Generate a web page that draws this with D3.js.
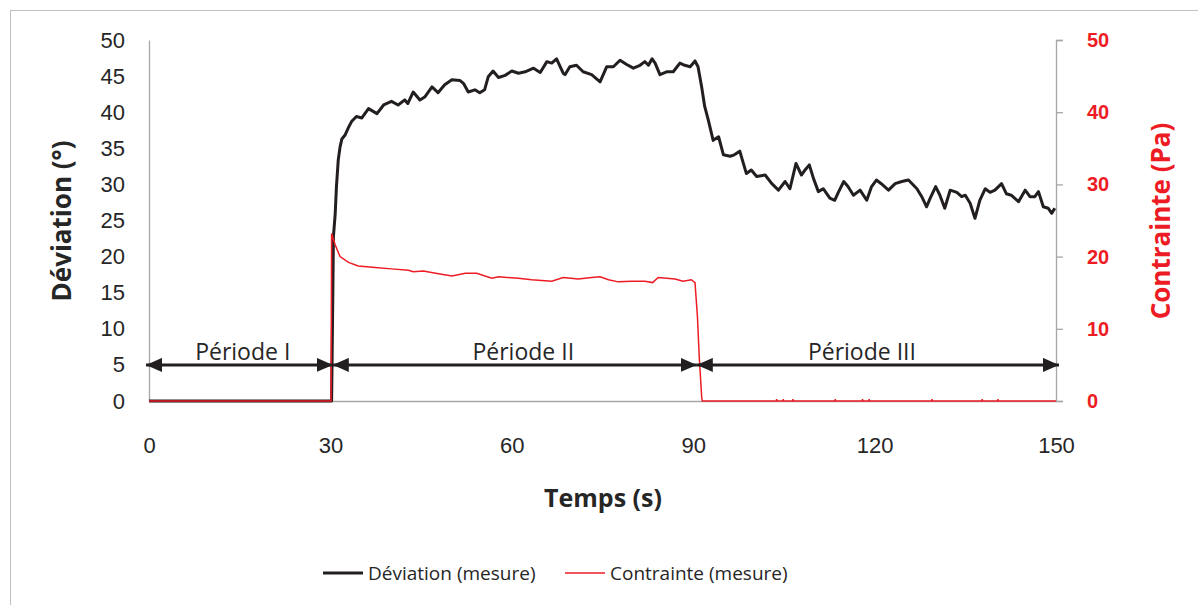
<!DOCTYPE html>
<html>
<head>
<meta charset="utf-8">
<script src="https://cdn.jsdelivr.net/npm/d3@7"></script>
<style>
  body { margin: 0; background: #fff; }
  svg { display: block; font-family: "Open Sans", sans-serif; }
</style>
</head>
<body>
<div id="chart"></div>
<script>
// values: [time (s), value]
var xTicks = [0, 30, 60, 90, 120, 150];
var leftTicks = [0, 5, 10, 15, 20, 25, 30, 35, 40, 45, 50];
var rightTicks = [0, 10, 20, 30, 40, 50];

var deviation = [
  [0, 0], [30.2, 0], [30.35, 11], [30.5, 22.8], [30.8, 26], [31.0, 29.7], [31.3, 33.4], [31.6, 35.2],
  [31.9, 36.3], [32.4, 36.8], [33.0, 37.9], [33.5, 38.7], [34.3, 39.4], [35.2, 39.2], [36.3, 40.5],
  [37.7, 39.8], [38.8, 41.0], [40.1, 41.5], [41.2, 41.0], [42.3, 41.7], [42.8, 41.2], [43.7, 42.8],
  [44.8, 41.7], [45.6, 42.1], [46.8, 43.5], [47.8, 42.7], [48.9, 43.8], [50.1, 44.5], [51.4, 44.4],
  [52.0, 44.0], [52.8, 42.8], [53.9, 43.1], [54.7, 42.7], [55.5, 43.1], [56.1, 44.9], [56.9, 45.7],
  [57.8, 44.8], [58.9, 45.1], [60.0, 45.7], [61.1, 45.4], [62.2, 45.6], [63.6, 46.1], [64.7, 45.5],
  [65.8, 47.0], [66.6, 46.8], [67.4, 47.4], [68.0, 46.3], [68.5, 45.4], [68.8, 45.2], [69.6, 46.3],
  [70.7, 46.5], [71.8, 45.6], [73.2, 45.2], [74.6, 44.2], [75.7, 46.3], [76.8, 46.3], [77.9, 47.2],
  [79.0, 46.6], [80.1, 46.1], [81.2, 46.5], [82.0, 47.0], [82.6, 46.5], [83.2, 47.4], [83.7, 46.8],
  [84.5, 45.2], [85.6, 45.6], [86.7, 45.6], [87.8, 46.8], [88.6, 46.5], [89.5, 46.3], [90.3, 47.1],
  [90.8, 46.3], [91.4, 43.5], [91.9, 40.8], [92.5, 38.9], [93.3, 36.1], [94.2, 36.6], [95.0, 34.1],
  [96.1, 33.9], [96.8, 34.1], [97.7, 34.6], [98.8, 31.5], [99.6, 32.0], [100.5, 31.1], [101.9, 31.3],
  [103.0, 30.1], [104.1, 29.2], [105.2, 30.4], [106.0, 29.4], [107.0, 32.9], [107.9, 31.3], [108.5, 32.0],
  [109.2, 32.7], [109.9, 30.8], [110.7, 29.0], [111.5, 29.4], [112.6, 28.1], [113.4, 27.8], [114.0, 28.9],
  [114.9, 30.4], [115.6, 29.7], [116.5, 28.5], [117.6, 29.2], [118.7, 27.8], [119.5, 29.7], [120.3, 30.6],
  [121.1, 30.1], [122.3, 29.2], [123.4, 30.1], [124.5, 30.4], [125.6, 30.6], [127.0, 29.4], [127.8, 28.3],
  [128.6, 26.9], [129.2, 28.1], [130.1, 29.7], [130.8, 28.5], [131.6, 26.7], [132.5, 29.2], [133.6, 28.9],
  [134.4, 28.3], [135.0, 28.5], [135.8, 27.4], [136.6, 25.3], [137.4, 27.8], [138.3, 29.4], [139.1, 28.9],
  [139.9, 29.2], [141.0, 30.1], [141.8, 28.7], [142.6, 28.5], [143.8, 27.6], [144.9, 29.2], [145.7, 28.3],
  [146.5, 28.3], [147.1, 29.0], [147.9, 26.9], [148.7, 26.7], [149.3, 26.0], [149.8, 26.7]
];

var contrainte = [
  [0, 0], [30.1, 0], [30.2, 23.2], [30.8, 21.6], [31.6, 20.0], [33.0, 19.2], [34.6, 18.7], [37.4, 18.5],
  [40.1, 18.3], [42.9, 18.1], [43.7, 17.9], [45.4, 18.0], [47.4, 17.7], [50.1, 17.3], [52.3, 17.7],
  [54.2, 17.7], [56.7, 17.0], [57.8, 17.2], [61.1, 17.0], [63.3, 16.8], [66.6, 16.6], [68.5, 17.1],
  [71.0, 16.9], [73.2, 17.1], [74.6, 17.2], [76.0, 16.8], [77.6, 16.5], [79.8, 16.6], [82.0, 16.6],
  [83.3, 16.4], [84.2, 17.1], [87.0, 16.9], [88.3, 16.6], [89.7, 16.8], [90.3, 16.4], [90.7, 11.7],
  [91.0, 6.1], [91.4, 0.6], [91.5, 0],
  [103.75, 0], [103.8, 0.25], [103.85, 0], [104.85, 0], [104.9, 0.25], [104.95, 0],
  [106.45, 0], [106.5, 0.25], [106.55, 0], [113.45, 0], [113.5, 0.25], [113.55, 0],
  [117.95, 0], [118.0, 0.25], [118.05, 0], [119.05, 0], [119.1, 0.25], [119.15, 0],
  [129.45, 0], [129.5, 0.25], [129.55, 0], [137.75, 0], [137.8, 0.25], [137.85, 0],
  [140.35, 0], [140.4, 0.25], [140.45, 0], [150, 0]
];

// periods on the left scale (arrow drawn at 5°)
var periods = [
  { label: 'Période I', start: -0.5, end: 30.4, labelAt: 15.5 },
  { label: 'Période II', start: 30.4, end: 90.6, labelAt: 61.9 },
  { label: 'Période III', start: 90.6, end: 150.5, labelAt: 117.9 }
];
var periodLevel = 5;

var legendItems = [
  { label: 'Déviation (mesure)', color: '#231f20', width: 3 },
  { label: 'Contrainte (mesure)', color: '#ed1c24', width: 1.5 }
];

var chart = {
  options: {
    width: 1198,
    height: 605,
    margin: { top: 40, right: 142, bottom: 204, left: 149 },
    axisColor: '#a6a6a6',
    darkColor: '#231f20',
    redColor: '#ed1c24'
  },

  draw: function () {
    var o = this.options
      , w = o.width - o.margin.left - o.margin.right
      , h = o.height - o.margin.top - o.margin.bottom
    ;

    var svg = d3.select('#chart').append('svg')
        .attr('width', o.width)
        .attr('height', o.height);

    // outer frame of the chart area (runs off the picture)
    svg.append('rect')
        .attr('x', 10.5).attr('y', 10.5)
        .attr('width', o.width + 20).attr('height', o.height + 20)
        .attr('fill', 'none')
        .attr('stroke', '#bfbfbf');

    var g = svg.append('g')
        .attr('transform', 'translate(' + o.margin.left + ',' + o.margin.top + ')');

    var x = d3.scaleLinear().domain([0, 150]).range([0, w]);
    var yLeft = d3.scaleLinear().domain([0, 50]).range([h, 0]);
    var yRight = d3.scaleLinear().domain([0, 50]).range([h, 0]);

    //
    // axes
    //
    var xAxis = g.append('g')
        .attr('transform', 'translate(0,' + h + ')')
        .call(d3.axisBottom(x).tickValues(xTicks).tickSize(0).tickPadding(36));

    var leftAxis = g.append('g')
        .call(d3.axisLeft(yLeft).tickValues(leftTicks).tickSize(0).tickPadding(24));

    var rightAxis = g.append('g')
        .attr('transform', 'translate(' + w + ',0)')
        .call(d3.axisRight(yRight).tickValues(rightTicks).tickSize(7).tickPadding(24));

    g.selectAll('.domain, .tick line')
        .attr('stroke', o.axisColor)
        .attr('stroke-width', 1.3);

    xAxis.selectAll('text').attr('fill', '#262626').style('font-size', '22px');
    leftAxis.selectAll('text').attr('fill', '#262626').style('font-size', '22px');
    rightAxis.selectAll('text')
        .attr('fill', o.redColor)
        .style('font-size', '20px')
        .style('font-weight', 'bold');

    //
    // series
    //
    var line = function (scale) {
      return d3.line()
          .x(function (d) { return x(d[0]); })
          .y(function (d) { return scale(d[1]); });
    };

    g.append('path')
        .datum(deviation)
        .attr('d', line(yLeft))
        .attr('fill', 'none')
        .attr('stroke', o.darkColor)
        .attr('stroke-width', 3)
        .attr('stroke-linejoin', 'round');

    g.append('path')
        .datum(contrainte)
        .attr('d', line(yRight))
        .attr('fill', 'none')
        .attr('stroke', o.redColor)
        .attr('stroke-width', 1.5);

    //
    // period arrows
    //
    var defs = svg.append('defs');
    defs.append('marker')
        .attr('id', 'arrowHead')
        .attr('viewBox', '0 0 16 14')
        .attr('refX', 16).attr('refY', 7)
        .attr('markerWidth', 16).attr('markerHeight', 14)
        .attr('markerUnits', 'userSpaceOnUse')
        .attr('orient', 'auto-start-reverse')
        .append('path')
        .attr('d', 'M0,0L16,7L0,14Z')
        .attr('fill', o.darkColor);

    var py = yLeft(periodLevel);
    var per = g.selectAll('g.period')
        .data(periods)
        .enter()
        .append('g')
        .attr('class', 'period');

    per.append('line')
        .attr('x1', function (d) { return x(d.start); })
        .attr('x2', function (d) { return x(d.end); })
        .attr('y1', py).attr('y2', py)
        .attr('stroke', o.darkColor)
        .attr('stroke-width', 3)
        .attr('marker-start', 'url(#arrowHead)')
        .attr('marker-end', 'url(#arrowHead)');

    per.append('text')
        .attr('x', function (d) { return x(d.labelAt); })
        .attr('y', py - 5)
        .attr('text-anchor', 'middle')
        .attr('fill', '#262626')
        .style('font-size', '23px')
        .text(function (d) { return d.label; });

    //
    // axis titles
    //
    svg.append('text')
        .attr('x', 603).attr('y', 507)
        .attr('text-anchor', 'middle')
        .attr('fill', '#262626')
        .style('font-size', '25px')
        .style('font-weight', 'bold')
        .text('Temps (s)');

    svg.append('text')
        .attr('transform', 'translate(71,221) rotate(-90)')
        .attr('text-anchor', 'middle')
        .attr('fill', '#262626')
        .style('font-size', '26px')
        .style('font-weight', 'bold')
        .text('Déviation (°)');

    svg.append('text')
        .attr('transform', 'translate(1170,221) rotate(-90)')
        .attr('text-anchor', 'middle')
        .attr('fill', o.redColor)
        .style('font-size', '26px')
        .style('font-weight', 'bold')
        .text('Contrainte (Pa)');

    //
    // legend
    //
    var lx = [323, 565];
    var leg = svg.selectAll('g.legend')
        .data(legendItems)
        .enter()
        .append('g')
        .attr('class', 'legend')
        .attr('transform', function (d, i) { return 'translate(' + lx[i] + ',573)'; });

    leg.append('line')
        .attr('x1', 0).attr('x2', 40)
        .attr('stroke', function (d) { return d.color; })
        .attr('stroke-width', function (d) { return d.width; });

    leg.append('text')
        .attr('x', 45).attr('dy', '0.35em')
        .attr('fill', '#262626')
        .style('font-size', '19px')
        .text(function (d) { return d.label; });
  }
};

chart.draw();
</script>
</body>
</html>
